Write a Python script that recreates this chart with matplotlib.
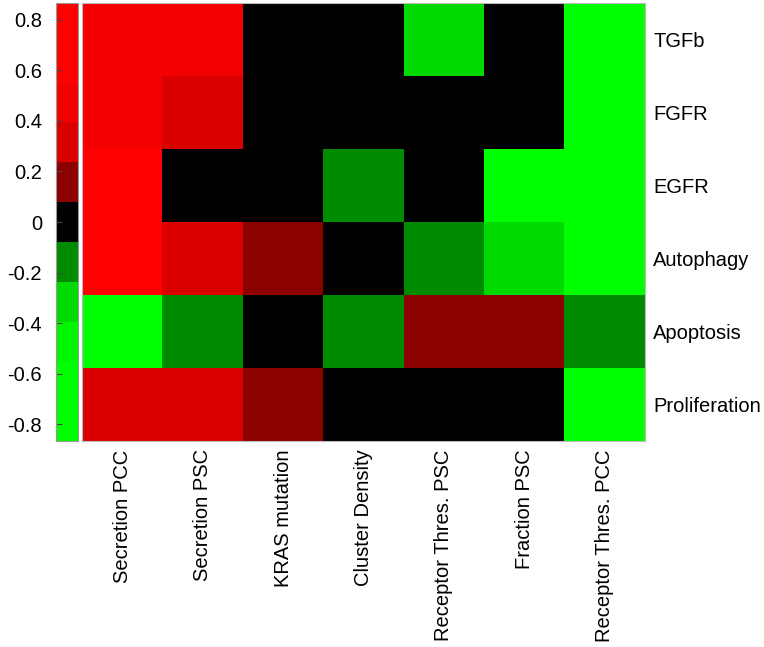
import numpy as np
import matplotlib
matplotlib.use("Agg")
import matplotlib.pyplot as plt
from matplotlib.colors import ListedColormap

plt.rcParams['font.family'] = ['Liberation Sans', 'DejaVu Sans']
plt.rcParams['axes.unicode_minus'] = False

rows = ["TGFb", "FGFR", "EGFR", "Autophagy", "Apoptosis", "Proliferation"]
cols = ["Secretion PCC", "Secretion PSC", "KRAS mutation", "Cluster Density",
        "Receptor Thres. PSC", "Fraction PSC", "Receptor Thres. PCC"]

# correlation values, one list per row
tgfb = [0.45, 0.48, 0.02, -0.03, -0.30, 0.01, -0.72]
fgfr = [0.46, 0.33, 0.03, 0.00, -0.02, 0.04, -0.70]
egfr = [0.866, 0.05, -0.01, -0.17, 0.02, -0.66, -0.81]
autophagy = [0.79, 0.31, 0.15, 0.01, -0.14, -0.33, -0.78]
apoptosis = [-0.74, -0.18, 0.00, -0.15, 0.17, 0.16, -0.19]
proliferation = [0.30, 0.34, 0.16, -0.04, 0.03, 0.02, -0.85]

cbar_ticks = [-0.8, -0.6, -0.4, -0.2, 0, 0.2, 0.4, 0.6, 0.8]

data = np.array([tgfb, fgfr, egfr, autophagy, apoptosis, proliferation])
lim = np.abs(data).max()

# stepped red-black-green map
cmap = ListedColormap([
    (0, 1, 0), (0, 1, 0), (0, 245/255, 0), (0, 218/255, 0), (0, 140/255, 0),
    (0, 0, 0),
    (140/255, 0, 0), (218/255, 0, 0), (245/255, 0, 0), (1, 0, 0), (1, 0, 0)])

fs = 14.5

fig = plt.figure(figsize=(7.64, 6.47), dpi=100)
ax = fig.add_axes([82/764, 206/647, 563/764, 438/647])
cax = fig.add_axes([56/764, 206/647, 22/764, 438/647])

im = ax.imshow(data, cmap=cmap, vmin=-lim, vmax=lim, aspect='auto',
               interpolation='nearest')

ax.set_xticks(np.arange(len(cols)))
ax.set_xticklabels(cols, rotation=90, fontsize=fs)
ax.set_yticks(np.arange(len(rows)))
ax.set_yticklabels(rows, fontsize=fs)
ax.yaxis.tick_right()
ax.tick_params(length=0, pad=6)
ax.tick_params(axis='x', pad=6)
for s in ax.spines.values():
    s.set_color('#bbbbbb')
    s.set_linewidth(0.8)

cb = fig.colorbar(im, cax=cax, ticks=cbar_ticks)
cax.yaxis.set_ticks_position('left')
cax.yaxis.set_label_position('left')
cax.tick_params(direction='in', length=4, width=0.8, color='#444444',
                labelsize=fs, pad=10)
cb.outline.set_edgecolor('#999999')
cb.outline.set_linewidth(0.8)
cax.set_yticklabels([f"{t:g}" for t in cbar_ticks])

fig.savefig("out.png", dpi=100)
